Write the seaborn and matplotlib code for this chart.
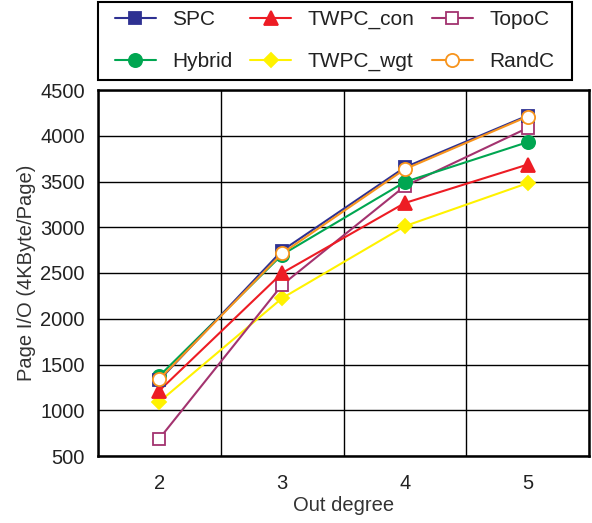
import matplotlib
matplotlib.use("Agg")
import matplotlib.pyplot as plt
import seaborn as sns
import pandas as pd
from matplotlib.lines import Line2D
from matplotlib.patches import Rectangle
from matplotlib.ticker import MultipleLocator, FixedLocator

degrees = [2, 3, 4, 5]
spc = [1330, 2745, 3655, 4220]
hybrid = [1375, 2700, 3495, 3930]
randc = [1340, 2715, 3635, 4210]
twpc_con = [1215, 2500, 3265, 3685]
topoc = [690, 2370, 3450, 4085]
twpc_wgt = [1093, 2225, 3012, 3482]

series_names = ["SPC", "Hybrid", "TWPC_con", "TWPC_wgt", "TopoC", "RandC"]
series_vals = [spc, hybrid, twpc_con, twpc_wgt, topoc, randc]
colors = {"SPC": "#2E3192", "TWPC_con": "#ED1C24", "TopoC": "#A3336F",
          "Hybrid": "#00A651", "TWPC_wgt": "#FFF200", "RandC": "#F7941D"}
markers = {"SPC": "s", "TWPC_con": "^", "TopoC": "s",
           "Hybrid": "o", "TWPC_wgt": "D", "RandC": "o"}
msizes = {"SPC": 9, "TWPC_con": 10, "TopoC": 9, "Hybrid": 9.5, "TWPC_wgt": 7.5, "RandC": 9.5}
hollow = {"TopoC", "RandC"}

sns.set_style("white")
plt.rcParams['font.family'] = ['Liberation Sans', 'DejaVu Sans']

rows = []
for n, v in zip(series_names, series_vals):
    for d, y in zip(degrees, v):
        rows.append({"degree": d, "value": y, "series": n})
df = pd.DataFrame(rows)

W, H = 592, 523
fig = plt.figure(figsize=(W/100, H/100), dpi=100)
ax = fig.add_axes([98/W, (H-456)/H, (589-98)/W, (456-90)/H])

draw_order = ["TWPC_wgt", "TopoC", "TWPC_con", "Hybrid", "SPC", "RandC"]
handles = {}
for n in draw_order:
    sub = df[df.series == n]
    kw = dict(color=colors[n], marker=markers[n], markersize=msizes[n],
              markeredgecolor=colors[n], linewidth=1.5, markeredgewidth=1.3)
    kw["markerfacecolor"] = "white" if n in hollow else colors[n]
    sns.lineplot(data=sub, x="degree", y="value", ax=ax, legend=False, **kw)
    handles[n] = Line2D([], [], **kw)

ax.set_xlim(1.5, 5.5)
ax.set_ylim(500, 4500)
ax.set_xticks(degrees)
ax.xaxis.set_minor_locator(FixedLocator([1.5, 2.5, 3.5, 4.5, 5.5]))
ax.tick_params(axis='x', which='major', length=0, labelsize=14.5, pad=13, colors='#222222')
ax.tick_params(axis='x', which='minor', length=8, width=1.2, color='black', direction='out')
ax.yaxis.set_major_locator(MultipleLocator(500))
ax.yaxis.set_minor_locator(MultipleLocator(100))
ax.tick_params(axis='y', which='major', length=6, width=1, labelsize=14.5, labelcolor='#222222', color='black')
ax.tick_params(axis='y', which='minor', length=5, width=0.8, color='black', direction='out')
ax.grid(False)
ax.grid(True, axis='y', which='major', color='black', linewidth=1)
ax.grid(True, axis='x', which='minor', color='black', linewidth=1)
for s in ax.spines.values():
    s.set_color('black')
    s.set_linewidth(1.8)
ax.set_xlabel("Out degree", fontsize=14.5, color='#333333', labelpad=2)
ax.set_ylabel("Page I/O (4KByte/Page)", fontsize=14.5, color='#333333', labelpad=3)

# legend frame
fig.add_artist(Rectangle((98/W, 1 - 80/H), (572-98)/W, 78/H, transform=fig.transFigure,
                         fill=False, edgecolor='black', linewidth=1.5))
leg = fig.legend([handles[n] for n in series_names], series_names,
                 loc='upper left', bbox_to_anchor=(115/W, 1 - 10/H),
                 ncol=3, fontsize=15, frameon=False,
                 handlelength=1.95, columnspacing=0.85, handletextpad=0.8,
                 borderpad=0, labelspacing=1.1, borderaxespad=0)
for t in leg.get_texts():
    t.set_color('#222222')

fig.savefig("out.png", dpi=100)
